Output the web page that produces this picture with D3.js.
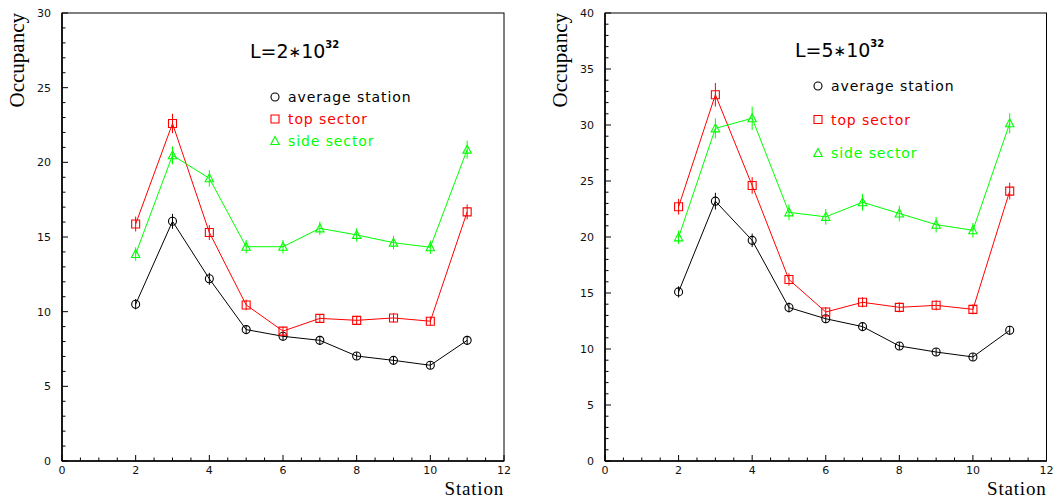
<!DOCTYPE html>
<html>
<head>
<meta charset="utf-8">
<script src="https://cdn.jsdelivr.net/npm/d3@7"></script>
<style>
  body { margin: 0; background: #fff; }
  svg { display: block; }
  .tick-label { font-family: 'DejaVu Sans', sans-serif; font-size: 11px; fill: #111; }
  .axis-title { font-family: 'Liberation Serif', serif; font-size: 21px; fill: #000; }
  .x-title { font-size: 19px; letter-spacing: 0.8px; }
  .legend-text { font-family: 'DejaVu Sans', sans-serif; font-size: 14px; letter-spacing: 0.9px; }
  .lumi { font-family: 'DejaVu Sans', sans-serif; font-size: 19px; fill: #000; }
</style>
</head>
<body>
<svg></svg>
<script>
const width = 1060;
const height = 499;

// station numbers (x)
const stations = [2, 3, 4, 5, 6, 7, 8, 9, 10, 11];

// L = 2*10^32
const avgL2  = [10.5, 16.05, 12.2, 8.8, 8.35, 8.08, 7.03, 6.74, 6.41, 8.08];
const topL2  = [15.87, 22.6, 15.3, 10.45, 8.7, 9.55, 9.42, 9.58, 9.36, 16.68];
const sideL2 = [13.86, 20.47, 18.93, 14.35, 14.35, 15.58, 15.14, 14.62, 14.31, 20.85];
const avgErrL2  = [0.35, 0.5, 0.4, 0.3, 0.3, 0.3, 0.25, 0.25, 0.25, 0.3];
const topErrL2  = [0.5, 0.65, 0.5, 0.35, 0.3, 0.3, 0.3, 0.3, 0.3, 0.5];
const sideErrL2 = [0.45, 0.6, 0.55, 0.45, 0.45, 0.45, 0.45, 0.45, 0.45, 0.6];

// L = 5*10^32
const avgL5  = [15.1, 23.2, 19.7, 13.7, 12.7, 12.0, 10.27, 9.73, 9.29, 11.67];
const topL5  = [22.7, 32.7, 24.6, 16.2, 13.3, 14.17, 13.72, 13.9, 13.54, 24.1];
const sideL5 = [19.97, 29.7, 30.6, 22.2, 21.8, 23.1, 22.1, 21.1, 20.6, 30.15];
const avgErrL5  = [0.5, 0.75, 0.6, 0.45, 0.4, 0.4, 0.35, 0.35, 0.35, 0.4];
const topErrL5  = [0.7, 1.05, 0.75, 0.55, 0.45, 0.45, 0.45, 0.45, 0.45, 0.75];
const sideErrL5 = [0.6, 0.9, 1.05, 0.7, 0.7, 0.75, 0.7, 0.7, 0.65, 0.9];

const seriesNames = ['average station', 'top sector', 'side sector'];
const seriesColors = ['#000000', '#ff0000', '#00ff00'];
const seriesShapes = ['circle', 'square', 'triangle'];

const svg = d3.select('svg')
    .attr('width', width)
    .attr('height', height);

const markerPath = (shape) => {
    if (shape == 'circle')
        return 'M4,0 A4,4 0 1,1 -4,0 A4,4 0 1,1 4,0 Z';
    if (shape == 'square')
        return 'M-4,-4 L4,-4 L4,4 L-4,4 Z';
    return 'M0,-4.5 L4.2,3.5 L-4.2,3.5 Z';
};

const drawPanel = (p) => {
    const g = svg.append('g');

    const x = d3.scaleLinear().domain([0, 12]).range([p.left, p.right]);
    const y = d3.scaleLinear().domain([0, p.yMax]).range([p.bottom, p.top]);

    // frame
    g.append('rect')
        .attr('x', p.left).attr('y', p.top)
        .attr('width', p.right - p.left).attr('height', p.bottom - p.top)
        .attr('fill', 'none').attr('stroke', '#000').attr('stroke-width', 1);

    // x ticks
    g.selectAll('.xminor').data(d3.range(0, 12.01, 0.5))
        .enter().append('line')
        .attr('x1', d => x(d)).attr('x2', d => x(d))
        .attr('y1', p.bottom)
        .attr('y2', d => p.bottom - (d % 2 == 0 ? 6 : 3.5))
        .attr('stroke', '#000');

    g.selectAll('.xlabel').data(d3.range(0, 13, 2))
        .enter().append('text')
        .attr('class', 'tick-label')
        .attr('x', d => x(d))
        .attr('y', p.bottom + 13)
        .attr('text-anchor', 'middle')
        .text(d => d);

    // y ticks
    g.selectAll('.yminor').data(d3.range(0, p.yMax + 0.01, 1))
        .enter().append('line')
        .attr('y1', d => y(d)).attr('y2', d => y(d))
        .attr('x1', p.left)
        .attr('x2', d => p.left + (d % 5 == 0 ? 6 : 3.5))
        .attr('stroke', '#000');

    g.selectAll('.ylabel').data(d3.range(0, p.yMax + 1, 5))
        .enter().append('text')
        .attr('class', 'tick-label')
        .attr('x', p.left - 11)
        .attr('y', d => y(d) + 4)
        .attr('text-anchor', 'end')
        .text(d => d);

    // axis lines drawn thicker
    g.append('line')
        .attr('x1', p.left).attr('x2', p.right)
        .attr('y1', p.bottom).attr('y2', p.bottom)
        .attr('stroke', '#000').attr('stroke-width', 1.6);
    g.append('line')
        .attr('x1', p.left).attr('x2', p.left)
        .attr('y1', p.top).attr('y2', p.bottom)
        .attr('stroke', '#000').attr('stroke-width', 1.6);

    // titles
    g.append('text')
        .attr('class', 'axis-title')
        .attr('transform', `translate(${p.left - 38},${p.top}) rotate(-90)`)
        .attr('text-anchor', 'end')
        .text('Occupancy');

    g.append('text')
        .attr('class', 'axis-title x-title')
        .attr('x', p.right)
        .attr('y', 494.5)
        .attr('text-anchor', 'end')
        .text('Station');

    const lumi = g.append('text')
        .attr('class', 'lumi')
        .attr('x', p.lumiX)
        .attr('y', p.lumiY);
    lumi.append('tspan').text('L=' + p.lumi);
    lumi.append('tspan').attr('font-size', '15px').attr('dy', -1).text('∗');
    lumi.append('tspan').attr('dy', 1).text('10');
    lumi.append('tspan')
        .attr('dy', -10)
        .attr('font-size', '10px')
        .attr('font-weight', 'bold')
        .text('32');

    // series
    const line = d3.line().x(d => x(d.s)).y(d => y(d.v));

    p.series.forEach((vals, k) => {
        const pts = stations.map((s, i) => ({s: s, v: vals[i], e: p.errors[k][i]}));
        const color = seriesColors[k];

        g.append('path')
            .attr('d', line(pts))
            .attr('fill', 'none')
            .attr('stroke', color)
            .attr('stroke-width', 1);

        g.selectAll('.err' + k).data(pts)
            .enter().append('line')
            .attr('x1', d => x(d.s)).attr('x2', d => x(d.s))
            .attr('y1', d => y(d.v - d.e)).attr('y2', d => y(d.v + d.e))
            .attr('stroke', color)
            .attr('stroke-width', 1);

        g.selectAll('.mk' + k).data(pts)
            .enter().append('path')
            .attr('transform', d => `translate(${x(d.s)},${y(d.v)})`)
            .attr('d', markerPath(seriesShapes[k]))
            .attr('fill', 'none')
            .attr('stroke', color)
            .attr('stroke-width', 1.1);

        // legend entry
        const ly = p.legendY + k * p.legendStep;
        g.append('path')
            .attr('transform', `translate(${p.legendX},${ly})`)
            .attr('d', markerPath(seriesShapes[k]))
            .attr('fill', 'none')
            .attr('stroke', color)
            .attr('stroke-width', 1.1);
        g.append('text')
            .attr('class', 'legend-text')
            .attr('x', p.legendX + 13)
            .attr('y', ly + 5)
            .attr('fill', color)
            .text(seriesNames[k]);
    });
};

drawPanel({
    left: 62, right: 504, top: 13, bottom: 461, yMax: 30,
    lumi: '2', lumiX: 250, lumiY: 58,
    legendX: 275, legendY: 97, legendStep: 22,
    series: [avgL2, topL2, sideL2],
    errors: [avgErrL2, topErrL2, sideErrL2]
});

drawPanel({
    left: 605, right: 1046.5, top: 13, bottom: 461, yMax: 40,
    lumi: '5', lumiX: 795, lumiY: 57,
    legendX: 818, legendY: 86, legendStep: 33.5,
    series: [avgL5, topL5, sideL5],
    errors: [avgErrL5, topErrL5, sideErrL5]
});
</script>
</body>
</html>
